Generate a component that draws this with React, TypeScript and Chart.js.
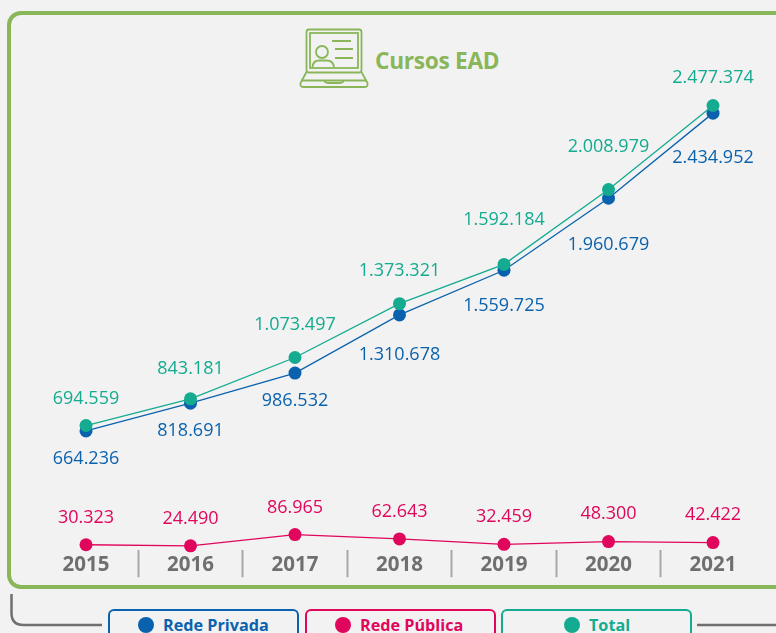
import React, { useEffect, useRef } from "react";
import { Chart, registerables } from "chart.js";

Chart.register(...registerables);

const years = ["2015", "2016", "2017", "2018", "2019", "2020", "2021"];
const redePrivada = [664236, 818691, 986532, 1310678, 1559725, 1960679, 2434952];
const redePublica = [30323, 24490, 86965, 62643, 32459, 48300, 42422];
const total = [694559, 843181, 1073497, 1373321, 1592184, 2008979, 2477374];

const privadaLabelOffsets = [28, 28, 28, 40, 36, 47, 45];
const publicaLabelOffsets = [-27, -27, -27, -27, -27, -28, -28];
const totalLabelOffsets = [-27, -30, -33, -33, -45, -43, -28];

const BLUE = "#0a62ae";
const RED = "#e0065c";
const TEAL = "#14ab90";
const GREEN = "#8ab65a";
const GREY = "#6f6f6f";
const FONT = '"Open Sans", sans-serif';

const fmt = (v: number) => String(v).replace(/\B(?=(\d{3})+(?!\d))/g, ".");

const labelPlugin = {
  id: "valueLabels",
  afterDatasetsDraw(chart: any) {
    const { ctx } = chart;
    chart.data.datasets.forEach((ds: any, i: number) => {
      const meta = chart.getDatasetMeta(i);
      ctx.save();
      ctx.font = `18px ${FONT}`;
      ctx.fillStyle = ds.borderColor;
      ctx.textAlign = "center";
      ctx.textBaseline = "middle";
      meta.data.forEach((pt: any, j: number) => {
        ctx.fillText(fmt(ds.data[j]), pt.x, pt.y + ds.labelOffsets[j]);
      });
      ctx.restore();
    });
  },
};

const legendItems = [
  { label: "Rede Privada", color: BLUE, left: 108, width: 191, dot: 38, text: 55 },
  { label: "Rede Pública", color: RED, left: 305, width: 191, dot: 38, text: 55 },
  { label: "Total", color: TEAL, left: 501, width: 191, dot: 71, text: 88 },
];

export default function App() {
  const ref = useRef<HTMLCanvasElement>(null);
  useEffect(() => {
    const series = (label: string, data: number[], color: string, labelOffsets: number[]) => ({
      label,
      data,
      labelOffsets,
      borderColor: color,
      backgroundColor: color,
      borderWidth: 1.3,
      pointRadius: 6.5,
      pointHoverRadius: 6.5,
      pointBorderWidth: 0,
      tension: 0,
      clip: false,
    });
    const chart = new Chart(ref.current as HTMLCanvasElement, {
      type: "line",
      data: {
        labels: years,
        datasets: [
          series("Rede Pública", redePublica, RED, publicaLabelOffsets),
          series("Total", total, TEAL, totalLabelOffsets),
          series("Rede Privada", redePrivada, BLUE, privadaLabelOffsets),
        ] as any,
      },
      plugins: [labelPlugin],
      options: {
        animation: false,
        responsive: false,
        events: [],
        layout: { padding: { left: 33.75, right: 10.75, top: 11.7, bottom: 0 } },
        plugins: { legend: { display: false }, tooltip: { enabled: false }, title: { display: false } },
        scales: {
          y: { display: false, min: 0, max: 3000000 },
          x: {
            offset: true,
            afterFit(scale: any) {
              scale.height = 82.8;
            },
            border: { display: false },
            grid: {
              offset: true,
              drawOnChartArea: false,
              drawTicks: true,
              tickLength: 27,
              tickWidth: 2,
              tickColor: (c: any) => (c.type !== "tick" || c.index === 0 ? "rgba(0,0,0,0)" : "#a9a9a9"),
            },
            ticks: {
              autoSkip: false,
              maxRotation: 0,
              padding: -24,
              color: GREY,
              font: { family: FONT, size: 20.5, weight: "bold" },
            },
          },
        },
      } as any,
    });
    return () => chart.destroy();
  }, []);

  return (
    <div style={{ position: "absolute", left: 0, top: 0, width: 776, height: 633, overflow: "hidden", background: "#f2f2f2", fontFamily: FONT }}>
      <div style={{ position: "absolute", left: 7, top: 11, width: 800, height: 578, boxSizing: "border-box", border: `4px solid ${GREEN}`, borderRadius: 14 }} />
      <svg width={776} height={633} style={{ position: "absolute", left: 0, top: 0 }} fill="none">
        <path d={`M11.5 594 V613 Q11.5 625 23.5 625 H102 M697 625 H776`} stroke={GREY} strokeWidth={2.5} />
        <g stroke={GREEN} strokeWidth={1.8}>
          <rect x={306.5} y={29.5} width={55} height={43} rx={2.5} />
          <rect x={310} y={33} width={48} height={35} />
          <path d="M306.5 72 L300.5 83 Q300 87 303 87 H365 Q368 87 367.5 83 L361.5 72" />
          <path d="M301 80.5 H367 M324 80.5 Q325 83 328 83 H340 Q343 83 344 80.5" />
          <circle cx={322} cy={52} r={6} />
          <path d="M312.5 67 Q313 60.5 319 60.5 H327 Q333 60.5 334 67" />
          <path d="M332 41 H351 M335 49 H353 M335 58 H353" />
        </g>
      </svg>
      <div style={{ position: "absolute", left: 375, top: 45, fontSize: 22.7, lineHeight: "32px", fontWeight: 700, color: GREEN, letterSpacing: -0.3, whiteSpace: "nowrap" }}>
        Cursos EAD
      </div>
      {legendItems.map((it) => (
        <div key={it.label} style={{ position: "absolute", left: it.left, top: 609, width: it.width, height: 40, boxSizing: "border-box", border: `2px solid ${it.color}`, borderRadius: 6 }}>
          <span style={{ position: "absolute", left: it.dot - 10, top: 6, width: 16, height: 16, borderRadius: "50%", background: it.color }} />
          <span style={{ position: "absolute", left: it.text - 2, top: 3, fontSize: 16.2, lineHeight: "22px", fontWeight: 700, color: it.color, whiteSpace: "nowrap" }}>
            {it.label}
          </span>
        </div>
      ))}
      <canvas ref={ref} width={776} height={633} style={{ position: "absolute", left: 0, top: 0, display: "block" }} />
    </div>
  );
}
